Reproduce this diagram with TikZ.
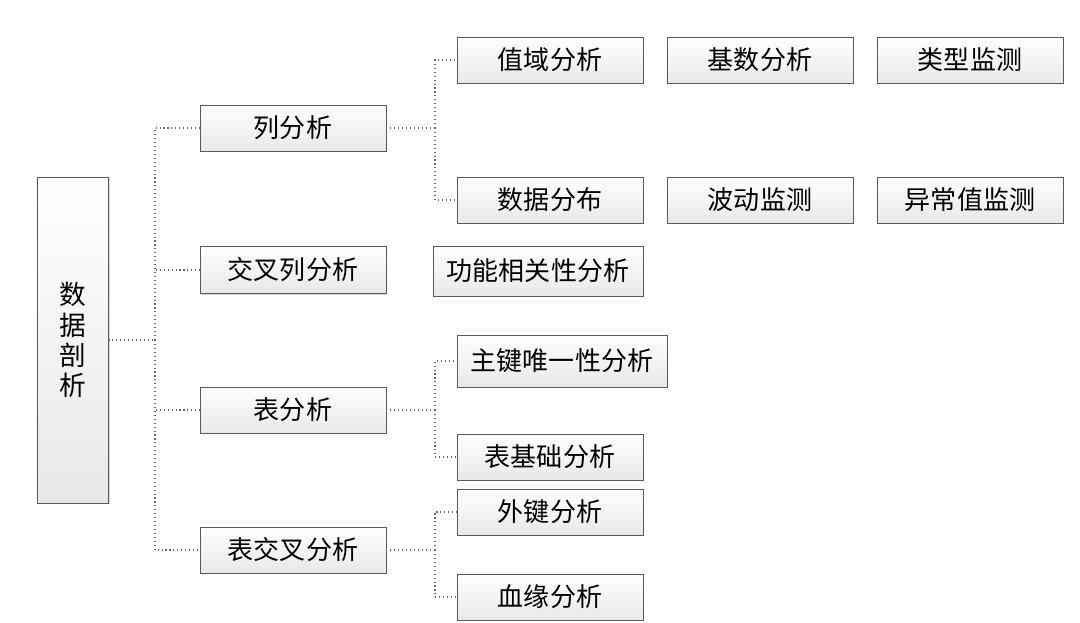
\documentclass[tikz,border=0pt]{standalone}
\usepackage{fontspec}
\setmainfont{Noto Sans CJK SC}
\usetikzlibrary{shapes,positioning,shadows,calc}

\begin{document}
\begin{tikzpicture}[x=0.025cm, y=-0.025cm,
  box/.style={rectangle, draw=gray!70!black, top color=white, bottom color=gray!18,
    drop shadow={shadow xshift=1pt, shadow yshift=-1pt, opacity=0.3},
    inner sep=0pt, minimum width=4.65cm, minimum height=1.15cm,
    font=\fontsize{18.5}{22}\selectfont},
  link/.style={draw=gray!80!black, dotted, thick}]
\useasboundingbox (0,0) rectangle (1080,623);

\node[box, minimum width=1.78cm, minimum height=8.15cm, align=center,
  font=\fontsize{19}{21.5}\selectfont] (root) at (72.5,340) {数\\据\\剖\\析};

\node[box] (col) at (293,128) {列分析};
\node[box, minimum height=1.18cm] (crs) at (293,270) {交叉列分析};
\node[box] (tab) at (293,410) {表分析};
\node[box] (tcr) at (293,550) {表交叉分析};

\node[box] (rng) at (550,60) {值域分析};
\node[box] (card) at (760,60) {基数分析};
\node[box] (type) at (970,60) {类型监测};
\node[box] (dist) at (550,200) {数据分布};
\node[box] (wave) at (760,200) {波动监测};
\node[box] (outl) at (970,200) {异常值监测};
\node[box, minimum width=5.25cm, minimum height=1.25cm] (func) at (538,271) {功能相关性分析};
\node[box, minimum width=5.25cm, minimum height=1.3cm] (pkey) at (562,361) {主键唯一性分析};
\node[box] (tbas) at (550,457) {表基础分析};
\node[box] (fkey) at (550,512) {外键分析};
\node[box] (lin) at (550,597) {血缘分析};

% trunk
\coordinate (j0) at (155,340);
\draw[link] (root.east) -- (j0);
\foreach \n in {col,crs,tab,tcr}
  \draw[link] (j0) |- (\n.west);

% column branches
\coordinate (j1) at (435,128);
\draw[link] (col.east) -- (j1);
\draw[link] (j1) |- (rng.west);
\draw[link] (j1) |- (dist.west);

% table branches
\coordinate (j2) at (435,410);
\draw[link] (tab.east) -- (j2);
\draw[link] (j2) |- (pkey.west);
\draw[link] (j2) |- (tbas.west);

\coordinate (j3) at (435,550);
\draw[link] (tcr.east) -- (j3);
\draw[link] (j3) |- (fkey.west);
\draw[link] (j3) |- (lin.west);
\end{tikzpicture}
\end{document}
